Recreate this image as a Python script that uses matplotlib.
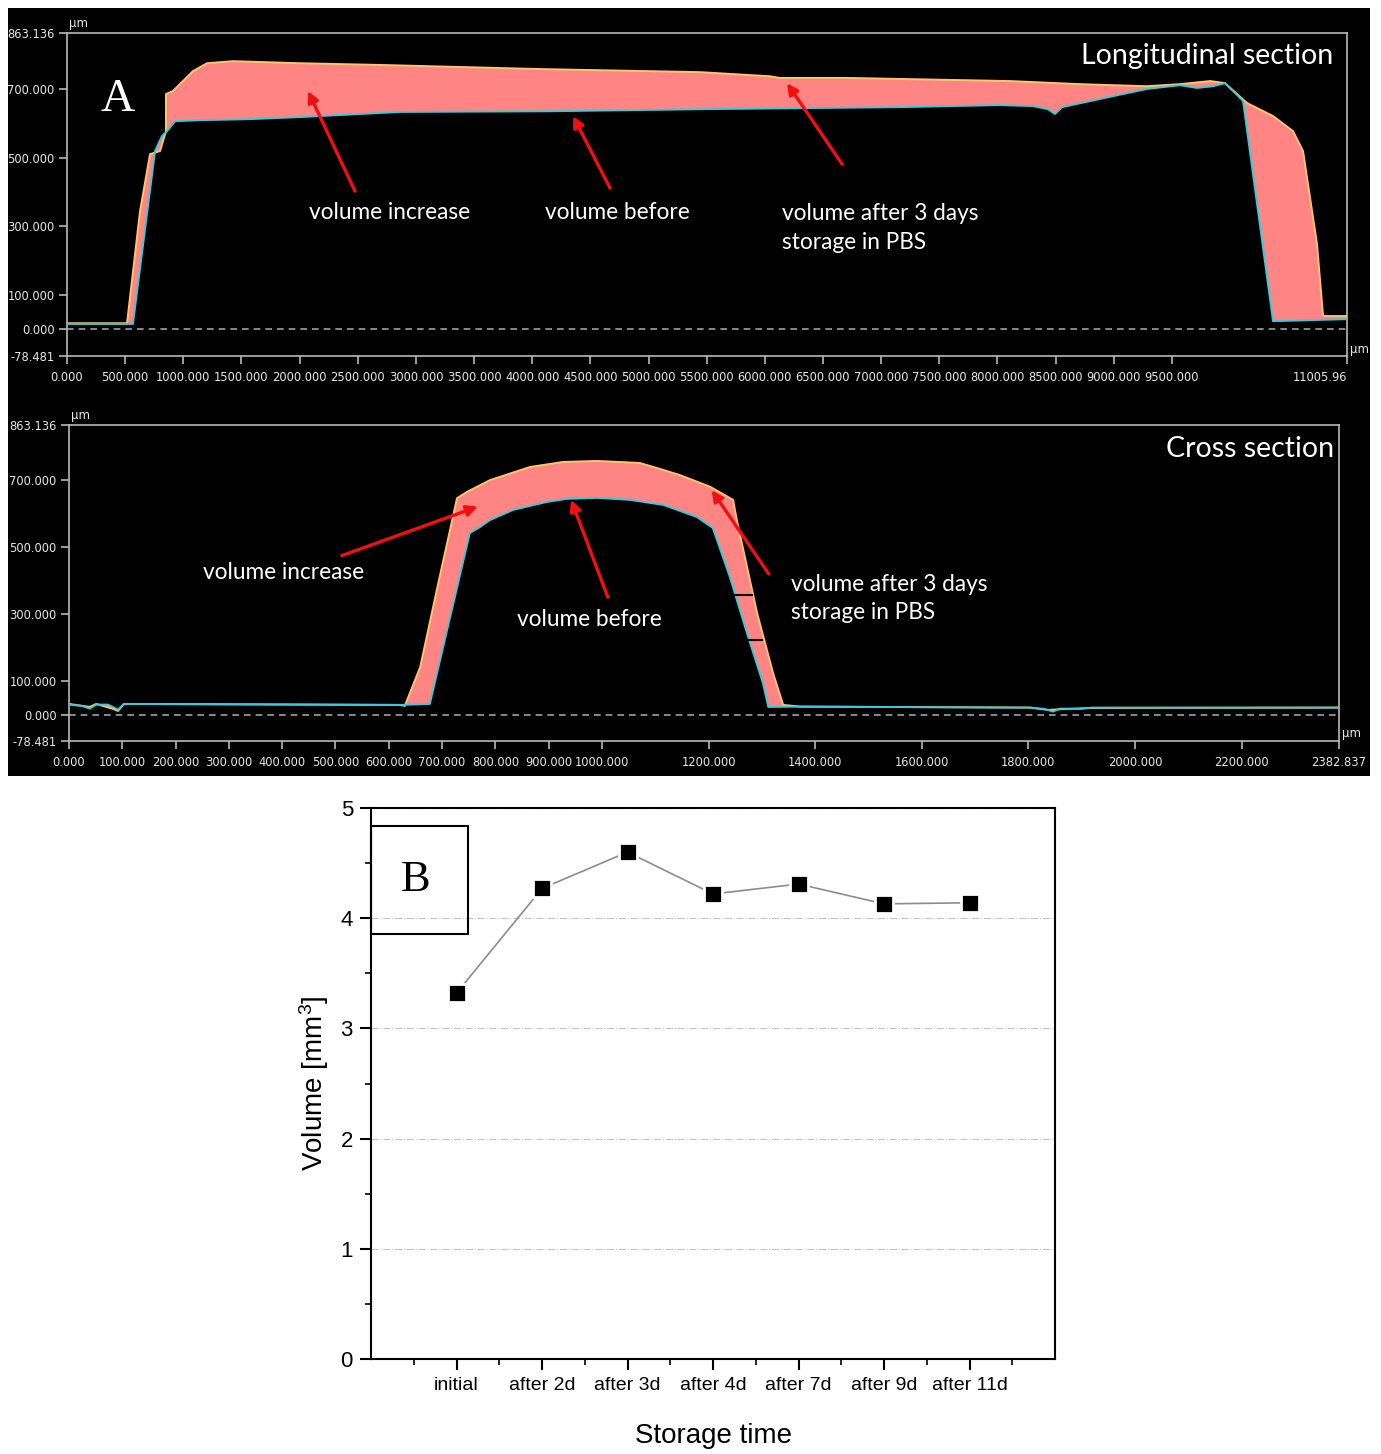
import numpy as np
import matplotlib.pyplot as plt
from matplotlib.patches import Rectangle

plt.rcParams['font.family'] = ['DejaVu Sans']
plt.rcParams['mathtext.default'] = 'regular'

# ---- data ----
# longitudinal section profile, um
long_before_x = [0, 567, 757, 817, 860, 929, 1144, 1574, 2003, 2863, 4153, 5443, 6303,
                 7163, 8022, 8306, 8435, 8495, 8556, 8994, 9286, 9570, 9716, 9854, 9957,
                 10112, 10370, 11006]
long_before_y = [15, 15, 519, 563, 577, 606, 609, 612, 618, 633, 635, 641, 644,
                 647, 653, 650, 641, 627, 647, 679, 700, 711, 703, 708, 717,
                 665, 23, 29]
long_after_x = [0, 516, 628, 714, 800, 851, 851, 911, 1083, 1204, 1427, 2003, 2691, 4067,
                5443, 6045, 6131, 6733, 8108, 8710, 9286, 9570, 9828, 9957, 10146,
                10370, 10542, 10628, 10748, 10800, 11006]
long_after_y = [17, 17, 344, 510, 519, 577, 685, 694, 752, 775, 781, 775, 770, 758,
                749, 737, 732, 732, 723, 714, 708, 714, 723, 717, 659,
                621, 577, 519, 248, 38, 38]

# cross section profile, um
cross_before_x = [0, 24, 39, 51, 73, 92, 103, 621, 677, 752, 771, 790, 833, 897, 934, 991,
                  1053, 1115, 1178, 1208, 1240, 1272, 1302, 1312, 1372, 1803, 1831, 1846,
                  1859, 1897, 1919, 2383]
cross_before_y = [30, 26, 18, 30, 30, 15, 32, 29, 32, 541, 559, 580, 610, 634, 643, 646,
                  640, 625, 589, 556, 410, 243, 94, 23, 24, 21, 17, 9,
                  18, 17, 21, 21]
cross_after_x = [0, 39, 51, 83, 92, 103, 621, 630, 659, 690, 728, 747, 790, 865, 927, 991,
                 1071, 1103, 1146, 1203, 1246, 1253, 1291, 1321, 1340, 1372, 1803, 1837,
                 1869, 1919, 2383]
cross_after_y = [32, 23, 32, 17, 11, 32, 29, 26, 142, 371, 645, 664, 699, 738, 753, 756,
                 750, 735, 714, 679, 640, 580, 303, 124, 29, 24, 21, 14,
                 17, 20, 21]

# volume vs storage time
storage_labels = ['initial', 'after 2d', 'after 3d', 'after 4d', 'after 7d', 'after 9d', 'after 11d']
volumes = [3.32, 4.27, 4.60, 4.22, 4.31, 4.13, 4.14]

W, H = 1381, 1454
fig = plt.figure(figsize=(W / 100, H / 100), dpi=100)
fig.add_artist(Rectangle((8 / W, 1 - 776 / H), 1362 / W, 768 / H, transform=fig.transFigure,
                         facecolor='black', edgecolor='none', zorder=-1))

FILL = '#ff8484'
CYAN = '#3cc8d8'
ORANGE = '#ffc46a'
TXT = dict(color='white', family=['Lato', 'DejaVu Sans'])
ARROW = dict(arrowstyle='-|>', color='#f01010', lw=2.4, mutation_scale=16, shrinkA=0, shrinkB=0)


def profile_axes(left, right, top, bottom, xmax, xticks, xlabels):
    ax = fig.add_axes([left / W, 1 - bottom / H, (right - left) / W, (bottom - top) / H])
    ax.set_facecolor('black')
    ax.set_xlim(0, xmax)
    ax.set_ylim(-78.481, 863.136)
    for s in ax.spines.values():
        s.set_color('#b8b8b8')
        s.set_linewidth(1.2)
    yt = [-78.481, 0, 100, 300, 500, 700, 863.136]
    ax.set_yticks(yt)
    ax.set_yticklabels([f'{v:.3f}' for v in yt])
    ax.set_xticks(xticks)
    ax.set_xticklabels(xlabels)
    ax.tick_params(colors='#b8b8b8', labelcolor='#e8e8e8', labelsize=8.3, length=6,
                   width=1.2, direction='out', pad=3)
    ax.tick_params(axis='x', pad=5)
    ax.axhline(0, color='#a0a0a0', ls=(0, (4, 3)), lw=1.2, zorder=1)
    # units
    fig.text((left + 2) / W, 1 - (top - 9) / H, 'µm', color='#e8e8e8', fontsize=8.5, va='center')
    fig.text((right + 3) / W, 1 - (bottom - 7) / H, 'µm', color='#e8e8e8', fontsize=8.5, va='center')
    return ax


def draw_profile(ax, bx, by, axx, ay):
    ax.fill(np.concatenate([axx, bx[::-1]]), np.concatenate([ay, by[::-1]]),
            color=FILL, lw=0, zorder=2)
    ax.plot(axx, ay, color=ORANGE, lw=1.4, zorder=3)
    ax.plot(bx, by, color=CYAN, lw=1.4, zorder=3)


# ---- A: longitudinal section ----
lx = list(np.arange(0, 10000, 500)) + [11005.96]
lxl = [f'{v:.3f}' for v in lx[:-1]] + ['11005.96']
axA = profile_axes(67, 1347, 33, 356, 11005.96, lx, lxl)
axA.get_xticklabels()[-1].set_horizontalalignment('right')
axA.get_xticklabels()[-1].set_x(11005.96)
draw_profile(axA, np.array(long_before_x), np.array(long_before_y),
             np.array(long_after_x), np.array(long_after_y))
axA.text(10886, 796, 'Longitudinal section', fontsize=20.5, ha='right', va='center', **TXT)
axA.text(438, 670, 'A', fontsize=34, color='white', family='Liberation Serif', ha='center', va='center')
axA.text(2777, 341, 'volume increase', fontsize=16.3, ha='center', va='center', **TXT)
axA.text(4729, 341, 'volume before', fontsize=16.3, ha='center', va='center', **TXT)
axA.text(6148, 294, 'volume after 3 days\nstorage in PBS', fontsize=16.3, ha='left', va='center',
         linespacing=1.45, **TXT)
axA.annotate('', xy=(2072, 694), xytext=(2476, 402), arrowprops=ARROW, zorder=5)
axA.annotate('', xy=(4351, 621), xytext=(4669, 411), arrowprops=ARROW, zorder=5)
axA.annotate('', xy=(6191, 717), xytext=(6664, 481), arrowprops=ARROW, zorder=5)

# ---- cross section ----
cx = list(np.arange(0, 1001, 100)) + list(np.arange(1200, 2201, 200)) + [2382.837]
cxl = [f'{v:.3f}' for v in cx]
axC = profile_axes(69, 1339, 425, 741, 2382.837, cx, cxl)
draw_profile(axC, np.array(cross_before_x), np.array(cross_before_y),
             np.array(cross_after_x), np.array(cross_after_y))
axC.plot([1240, 1281], [357, 357], color='black', lw=1.5, zorder=4)
axC.plot([1266, 1300], [223, 223], color='black', lw=1.5, zorder=4)
axC.text(2374, 792, 'Cross section', fontsize=20.5, ha='right', va='center', **TXT)
axC.text(402, 425, 'volume increase', fontsize=16.3, ha='center', va='center', **TXT)
axC.text(976, 285, 'volume before', fontsize=16.3, ha='center', va='center', **TXT)
axC.text(1355, 346, 'volume after 3 days\nstorage in PBS', fontsize=16.3, ha='left', va='center',
         linespacing=1.45, **TXT)
axC.annotate('', xy=(767, 620), xytext=(512, 474), arrowprops=ARROW, zorder=5)
axC.annotate('', xy=(942, 640), xytext=(1011, 350), arrowprops=ARROW, zorder=5)
axC.annotate('', xy=(1206, 669), xytext=(1313, 419), arrowprops=ARROW, zorder=5)

# ---- B: volume vs storage time ----
axB = fig.add_axes([371 / W, 1 - 1359 / H, (1055 - 371) / W, (1359 - 808) / H])
pos = np.arange(1, len(volumes) + 1)
axB.plot(pos, volumes, color='#8c8c8c', lw=1.2, marker='s', ms=13, mfc='black',
         mec='white', mew=2, zorder=3, clip_on=False)
axB.set_xlim(0, 8)
axB.set_ylim(0, 5)
axB.set_xticks(pos)
axB.set_xticklabels(storage_labels, family=['Liberation Sans Narrow', 'Liberation Sans'], fontsize=14)
axB.set_xticks(list(pos - 0.5) + [7.5], minor=True)
axB.set_yticks(np.arange(0, 6, 1))
axB.set_yticks(np.arange(0.5, 5, 1), minor=True)
for lab in axB.get_yticklabels():
    lab.set_family('Liberation Sans')
    lab.set_fontsize(16)
for s in axB.spines.values():
    s.set_linewidth(1.5)
axB.tick_params(which='major', direction='out', length=8, width=1.5, pad=5)
axB.tick_params(which='minor', direction='out', length=4, width=1.2)
axB.grid(axis='y', which='major', color='#c4c4c4', ls='-.', lw=0.8)
axB.set_ylabel('Volume [mm$^3$]', family='Liberation Sans', fontsize=20, labelpad=7)
axB.set_xlabel('Storage time', family='Liberation Sans', fontsize=20, labelpad=21)
axB.add_patch(Rectangle((0, 0.7713), 0.1418, 0.196, transform=axB.transAxes, fill=False,
                        ec='black', lw=1.5, clip_on=False, zorder=4))
axB.text(0.0658, 0.8693, 'B', transform=axB.transAxes, family='Liberation Serif', fontsize=32,
         ha='center', va='center')

fig.savefig('out.png', dpi=100)
